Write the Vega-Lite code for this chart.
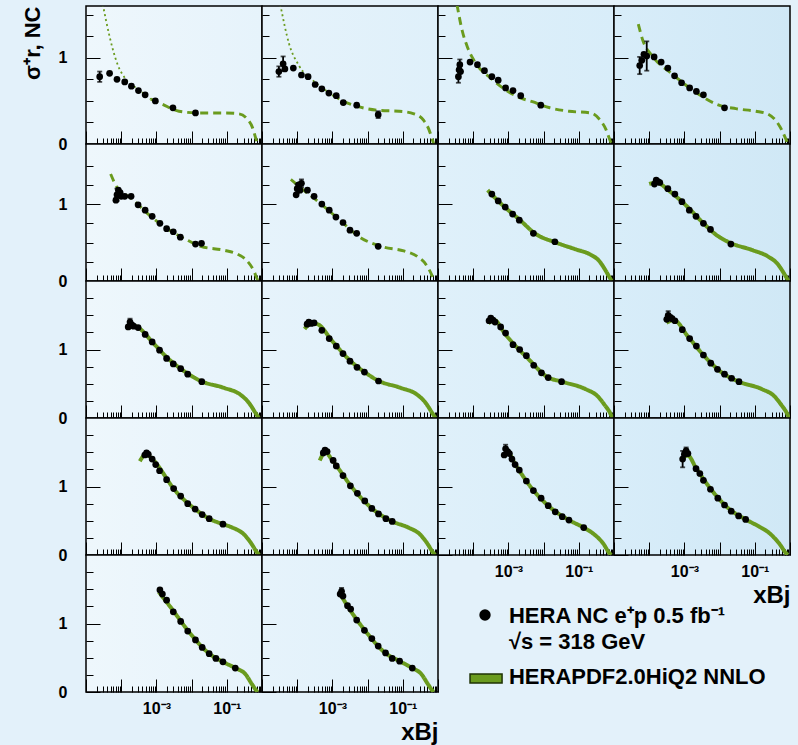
{
"$schema":"https://vega.github.io/schema/vega-lite/v6.json",
"background":"#e3f1fa",
"padding":{"left":20,"top":5,"right":7,"bottom":0},
"columns":4,"spacing":0,"bounds":"flush",
"config":{"font":"Liberation Sans","view":{"stroke":"#000","strokeWidth":1.5,"fill":"#e6f3fb"},
"axis":{"domain":false,"grid":false,"tickColor":"#000","tickWidth":1,"labelFont":"Liberation Sans","labelFontWeight":"bold","labelFontSize":16,"labelColor":"#000","labelFlush":false,"labelOverlap":false,"titleFont":"Liberation Sans","titleFontWeight":"bold","titleColor":"#000"},
"axisX":{"tickCount":12}},
"datasets":{"d":[
{"p":1,"k":"c","seg":"lowx","x":3.0e-5,"y":1.62},{"p":1,"k":"c","seg":"lowx","x":4.47e-5,"y":1.28},{"p":1,"k":"c","seg":"lowx","x":7.76e-5,"y":0.93},{"p":1,"k":"c","seg":"lowx","x":1.35e-4,"y":0.75},{"p":1,"k":"c","seg":"lowx","x":3.16e-4,"y":0.63},{"p":1,"k":"c","seg":"lowx","x":6.92e-4,"y":0.52},
{"p":1,"k":"c","seg":"extrap","x":6.92e-4,"y":0.52},{"p":1,"k":"c","seg":"extrap","x":1.48e-3,"y":0.46},{"p":1,"k":"c","seg":"extrap","x":4.37e-3,"y":0.38},{"p":1,"k":"c","seg":"extrap","x":1.62e-2,"y":0.36},{"p":1,"k":"c","seg":"extrap","x":9.33e-2,"y":0.36},{"p":1,"k":"c","seg":"extrap","x":0.224,"y":0.35},{"p":1,"k":"c","seg":"extrap","x":0.38,"y":0.29},{"p":1,"k":"c","seg":"extrap","x":0.537,"y":0.19},{"p":1,"k":"c","seg":"extrap","x":0.661,"y":0.07},{"p":1,"k":"c","seg":"extrap","x":0.741,"y":0},
{"p":1,"k":"d","x":2.45e-5,"y":0.78,"e":0.06},{"p":1,"k":"d","x":4.68e-5,"y":0.82},{"p":1,"k":"d","x":7.59e-5,"y":0.75},{"p":1,"k":"d","x":1.26e-4,"y":0.72},{"p":1,"k":"d","x":1.95e-4,"y":0.67},{"p":1,"k":"d","x":3.09e-4,"y":0.62},{"p":1,"k":"d","x":4.79e-4,"y":0.57},{"p":1,"k":"d","x":9.33e-4,"y":0.50},{"p":1,"k":"d","x":2.95e-3,"y":0.42},{"p":1,"k":"d","x":1.29e-2,"y":0.36},
{"p":2,"k":"c","seg":"lowx","x":3.3e-5,"y":1.62},{"p":2,"k":"c","seg":"lowx","x":5.89e-5,"y":1.16},{"p":2,"k":"c","seg":"lowx","x":1.12e-4,"y":0.91},{"p":2,"k":"c","seg":"lowx","x":3.39e-4,"y":0.71},{"p":2,"k":"c","seg":"lowx","x":1.0e-3,"y":0.57},
{"p":2,"k":"c","seg":"extrap","x":1.0e-3,"y":0.57},{"p":2,"k":"c","seg":"extrap","x":2.2e-3,"y":0.49},{"p":2,"k":"c","seg":"extrap","x":5.75e-3,"y":0.43},{"p":2,"k":"c","seg":"extrap","x":2.09e-2,"y":0.39},{"p":2,"k":"c","seg":"extrap","x":7.76e-2,"y":0.38},{"p":2,"k":"c","seg":"extrap","x":0.209,"y":0.35},{"p":2,"k":"c","seg":"extrap","x":0.398,"y":0.27},{"p":2,"k":"c","seg":"extrap","x":0.55,"y":0.17},{"p":2,"k":"c","seg":"extrap","x":0.692,"y":0.05},{"p":2,"k":"c","seg":"extrap","x":0.759,"y":0},
{"p":2,"k":"d","x":3.02e-5,"y":0.84,"e":0.06},{"p":2,"k":"d","x":3.98e-5,"y":0.93,"e":0.085},{"p":2,"k":"d","x":4.47e-5,"y":0.87},{"p":2,"k":"d","x":7.76e-5,"y":0.88},{"p":2,"k":"d","x":1.32e-4,"y":0.80},{"p":2,"k":"d","x":2.04e-4,"y":0.78},{"p":2,"k":"d","x":3.24e-4,"y":0.69},{"p":2,"k":"d","x":5.01e-4,"y":0.64},{"p":2,"k":"d","x":7.94e-4,"y":0.59},{"p":2,"k":"d","x":1.29e-3,"y":0.56},{"p":2,"k":"d","x":2.04e-3,"y":0.48},{"p":2,"k":"d","x":4.9e-3,"y":0.45},{"p":2,"k":"d","x":2.0e-2,"y":0.34,"e":0.04},
{"p":3,"k":"c","seg":"extrap","x":3.45e-5,"y":1.62},{"p":3,"k":"c","seg":"extrap","x":4.9e-5,"y":1.31},{"p":3,"k":"c","seg":"extrap","x":6.92e-5,"y":1.12},{"p":3,"k":"c","seg":"extrap","x":1.05e-4,"y":0.97},{"p":3,"k":"c","seg":"extrap","x":3.47e-4,"y":0.75},{"p":3,"k":"c","seg":"extrap","x":2.0e-3,"y":0.54},{"p":3,"k":"c","seg":"extrap","x":4.79e-3,"y":0.49},{"p":3,"k":"c","seg":"extrap","x":1.5e-2,"y":0.42},{"p":3,"k":"c","seg":"extrap","x":5.25e-2,"y":0.38},{"p":3,"k":"c","seg":"extrap","x":0.219,"y":0.36},{"p":3,"k":"c","seg":"extrap","x":0.38,"y":0.29},{"p":3,"k":"c","seg":"extrap","x":0.589,"y":0.17},{"p":3,"k":"c","seg":"extrap","x":0.759,"y":0.05},{"p":3,"k":"c","seg":"extrap","x":0.851,"y":0},
{"p":3,"k":"d","x":3.8e-5,"y":0.78,"e":0.07},{"p":3,"k":"d","x":3.98e-5,"y":0.86},{"p":3,"k":"d","x":4.17e-5,"y":0.92,"e":0.06},{"p":3,"k":"d","x":4.37e-5,"y":0.84},{"p":3,"k":"d","x":8.13e-5,"y":0.95},{"p":3,"k":"d","x":1.32e-4,"y":0.92},{"p":3,"k":"d","x":2.09e-4,"y":0.85},{"p":3,"k":"d","x":3.39e-4,"y":0.78},{"p":3,"k":"d","x":5.13e-4,"y":0.74},{"p":3,"k":"d","x":8.32e-4,"y":0.65},{"p":3,"k":"d","x":1.35e-3,"y":0.62},{"p":3,"k":"d","x":2.24e-3,"y":0.56},{"p":3,"k":"d","x":8.32e-3,"y":0.45},
{"p":4,"k":"c","seg":"extrap","x":4.9e-5,"y":1.39},{"p":4,"k":"c","seg":"extrap","x":6.61e-5,"y":1.2},{"p":4,"k":"c","seg":"extrap","x":1.23e-4,"y":1.02},{"p":4,"k":"c","seg":"extrap","x":4.57e-4,"y":0.81},{"p":4,"k":"c","seg":"extrap","x":2.09e-3,"y":0.6},{"p":4,"k":"c","seg":"extrap","x":9.55e-3,"y":0.45},{"p":4,"k":"c","seg":"extrap","x":2.88e-2,"y":0.41},{"p":4,"k":"c","seg":"extrap","x":0.107,"y":0.38},{"p":4,"k":"c","seg":"extrap","x":0.229,"y":0.35},{"p":4,"k":"c","seg":"extrap","x":0.398,"y":0.27},{"p":4,"k":"c","seg":"extrap","x":0.603,"y":0.15},{"p":4,"k":"c","seg":"extrap","x":0.813,"y":0.03},{"p":4,"k":"c","seg":"extrap","x":0.871,"y":0},
{"p":4,"k":"d","x":5.37e-5,"y":0.91,"e":0.1},{"p":4,"k":"d","x":6.17e-5,"y":0.97},{"p":4,"k":"d","x":7.08e-5,"y":1.04},{"p":4,"k":"d","x":8.51e-5,"y":1.02,"e":0.17},{"p":4,"k":"d","x":1.38e-4,"y":1.01},{"p":4,"k":"d","x":2.19e-4,"y":0.95},{"p":4,"k":"d","x":3.39e-4,"y":0.88},{"p":4,"k":"d","x":5.25e-4,"y":0.79},{"p":4,"k":"d","x":8.32e-4,"y":0.71},{"p":4,"k":"d","x":1.41e-3,"y":0.65},{"p":4,"k":"d","x":2.19e-3,"y":0.61},{"p":4,"k":"d","x":3.47e-3,"y":0.57},{"p":4,"k":"d","x":1.38e-2,"y":0.42},
{"p":5,"k":"c","seg":"extrap","x":5.01e-5,"y":1.39},{"p":5,"k":"c","seg":"extrap","x":7.76e-5,"y":1.21},{"p":5,"k":"c","seg":"extrap","x":1.86e-4,"y":1.08},{"p":5,"k":"c","seg":"extrap","x":6.92e-4,"y":0.84},{"p":5,"k":"c","seg":"extrap","x":2.57e-3,"y":0.65},{"p":5,"k":"c","seg":"extrap","x":7.59e-3,"y":0.53},{"p":5,"k":"c","seg":"extrap","x":1.82e-2,"y":0.45},{"p":5,"k":"c","seg":"extrap","x":8.32e-2,"y":0.4},{"p":5,"k":"c","seg":"extrap","x":0.2,"y":0.35},{"p":5,"k":"c","seg":"extrap","x":0.38,"y":0.26},{"p":5,"k":"c","seg":"extrap","x":0.589,"y":0.13},{"p":5,"k":"c","seg":"extrap","x":0.741,"y":0.02},{"p":5,"k":"c","seg":"extrap","x":0.794,"y":0},
{"p":5,"k":"d","x":7.08e-5,"y":1.05},{"p":5,"k":"d","x":7.59e-5,"y":1.12,"e":0.08},{"p":5,"k":"d","x":8.32e-5,"y":1.18},{"p":5,"k":"d","x":9.33e-5,"y":1.15},{"p":5,"k":"d","x":1.0e-4,"y":1.1},{"p":5,"k":"d","x":1.26e-4,"y":1.1},{"p":5,"k":"d","x":1.91e-4,"y":1.1},{"p":5,"k":"d","x":3.02e-4,"y":0.99},{"p":5,"k":"d","x":4.79e-4,"y":0.92},{"p":5,"k":"d","x":7.59e-4,"y":0.84},{"p":5,"k":"d","x":1.26e-3,"y":0.75},{"p":5,"k":"d","x":1.95e-3,"y":0.68},{"p":5,"k":"d","x":3.02e-3,"y":0.64},{"p":5,"k":"d","x":4.79e-3,"y":0.57},{"p":5,"k":"d","x":1.29e-2,"y":0.48},{"p":5,"k":"d","x":1.91e-2,"y":0.49},
{"p":6,"k":"c","seg":"extrap","x":6.61e-5,"y":1.32},{"p":6,"k":"c","seg":"extrap","x":1.26e-4,"y":1.21},{"p":6,"k":"c","seg":"extrap","x":3.72e-4,"y":1.04},{"p":6,"k":"c","seg":"extrap","x":1.38e-3,"y":0.82},{"p":6,"k":"c","seg":"extrap","x":6.46e-3,"y":0.56},{"p":6,"k":"c","seg":"extrap","x":2.95e-2,"y":0.44},{"p":6,"k":"c","seg":"extrap","x":0.107,"y":0.39},{"p":6,"k":"c","seg":"extrap","x":0.257,"y":0.32},{"p":6,"k":"c","seg":"extrap","x":0.447,"y":0.22},{"p":6,"k":"c","seg":"extrap","x":0.692,"y":0.06},{"p":6,"k":"c","seg":"extrap","x":0.776,"y":0},
{"p":6,"k":"d","x":9.33e-5,"y":1.12},{"p":6,"k":"d","x":1.0e-4,"y":1.2,"e":0.06},{"p":6,"k":"d","x":1.1e-4,"y":1.25},{"p":6,"k":"d","x":1.2e-4,"y":1.18},{"p":6,"k":"d","x":1.32e-4,"y":1.27,"e":0.05},{"p":6,"k":"d","x":1.95e-4,"y":1.18},{"p":6,"k":"d","x":3.02e-4,"y":1.1},{"p":6,"k":"d","x":5.01e-4,"y":1.0},{"p":6,"k":"d","x":8.13e-4,"y":0.92},{"p":6,"k":"d","x":1.26e-3,"y":0.83},{"p":6,"k":"d","x":2.0e-3,"y":0.76},{"p":6,"k":"d","x":3.16e-3,"y":0.66},{"p":6,"k":"d","x":4.9e-3,"y":0.62},{"p":6,"k":"d","x":2.0e-2,"y":0.45},
{"p":7,"k":"c","seg":"fit","x":2.57e-4,"y":1.18},{"p":7,"k":"c","seg":"fit","x":6.31e-4,"y":1.0},{"p":7,"k":"c","seg":"fit","x":2.04e-3,"y":0.8},{"p":7,"k":"c","seg":"fit","x":6.03e-3,"y":0.61},{"p":7,"k":"c","seg":"fit","x":2.24e-2,"y":0.5},{"p":7,"k":"c","seg":"fit","x":8.32e-2,"y":0.41},{"p":7,"k":"c","seg":"fit","x":0.2,"y":0.35},{"p":7,"k":"c","seg":"fit","x":0.38,"y":0.26},{"p":7,"k":"c","seg":"fit","x":0.589,"y":0.13},{"p":7,"k":"c","seg":"fit","x":0.813,"y":0.02},{"p":7,"k":"c","seg":"fit","x":0.871,"y":0},
{"p":7,"k":"d","x":3.39e-4,"y":1.13},{"p":7,"k":"d","x":5.13e-4,"y":1.04},{"p":7,"k":"d","x":8.13e-4,"y":0.96},{"p":7,"k":"d","x":1.32e-3,"y":0.87},{"p":7,"k":"d","x":2.04e-3,"y":0.79},{"p":7,"k":"d","x":5.13e-3,"y":0.62},{"p":7,"k":"d","x":2.09e-2,"y":0.51},
{"p":8,"k":"c","seg":"fit","x":1.0e-4,"y":1.26},{"p":8,"k":"c","seg":"fit","x":1.58e-4,"y":1.28},{"p":8,"k":"c","seg":"fit","x":3.72e-4,"y":1.17},{"p":8,"k":"c","seg":"fit","x":1.12e-3,"y":0.98},{"p":8,"k":"c","seg":"fit","x":3.31e-3,"y":0.76},{"p":8,"k":"c","seg":"fit","x":8.0e-3,"y":0.6},{"p":8,"k":"c","seg":"fit","x":1.91e-2,"y":0.5},{"p":8,"k":"c","seg":"fit","x":8.71e-2,"y":0.4},{"p":8,"k":"c","seg":"fit","x":0.234,"y":0.32},{"p":8,"k":"c","seg":"fit","x":0.447,"y":0.22},{"p":8,"k":"c","seg":"fit","x":0.692,"y":0.09},{"p":8,"k":"c","seg":"fit","x":0.871,"y":0.01},{"p":8,"k":"c","seg":"fit","x":0.891,"y":0},
{"p":8,"k":"d","x":1.41e-4,"y":1.26},{"p":8,"k":"d","x":1.58e-4,"y":1.31},{"p":8,"k":"d","x":1.78e-4,"y":1.29},{"p":8,"k":"d","x":2.0e-4,"y":1.28},{"p":8,"k":"d","x":3.39e-4,"y":1.2},{"p":8,"k":"d","x":5.37e-4,"y":1.13},{"p":8,"k":"d","x":8.51e-4,"y":1.03},{"p":8,"k":"d","x":1.38e-3,"y":0.92},{"p":8,"k":"d","x":2.14e-3,"y":0.84},{"p":8,"k":"d","x":3.47e-3,"y":0.75},{"p":8,"k":"d","x":5.5e-3,"y":0.67},{"p":8,"k":"d","x":2.09e-2,"y":0.48},
{"p":9,"k":"c","seg":"fit","x":1.48e-4,"y":1.31},{"p":9,"k":"c","seg":"fit","x":2.51e-4,"y":1.34},{"p":9,"k":"c","seg":"fit","x":3.24e-4,"y":1.31},{"p":9,"k":"c","seg":"fit","x":7.94e-4,"y":1.1},{"p":9,"k":"c","seg":"fit","x":2.04e-3,"y":0.88},{"p":9,"k":"c","seg":"fit","x":6.31e-3,"y":0.68},{"p":9,"k":"c","seg":"fit","x":1.82e-2,"y":0.54},{"p":9,"k":"c","seg":"fit","x":8.32e-2,"y":0.44},{"p":9,"k":"c","seg":"fit","x":0.245,"y":0.34},{"p":9,"k":"c","seg":"fit","x":0.427,"y":0.22},{"p":9,"k":"c","seg":"fit","x":0.661,"y":0.07},{"p":9,"k":"c","seg":"fit","x":0.813,"y":0},
{"p":9,"k":"d","x":1.58e-4,"y":1.33},{"p":9,"k":"d","x":1.78e-4,"y":1.4,"e":0.05},{"p":9,"k":"d","x":2.0e-4,"y":1.36},{"p":9,"k":"d","x":2.24e-4,"y":1.34},{"p":9,"k":"d","x":3.02e-4,"y":1.32},{"p":9,"k":"d","x":4.79e-4,"y":1.22},{"p":9,"k":"d","x":7.59e-4,"y":1.11},{"p":9,"k":"d","x":1.23e-3,"y":0.99},{"p":9,"k":"d","x":1.95e-3,"y":0.87},{"p":9,"k":"d","x":3.02e-3,"y":0.79},{"p":9,"k":"d","x":4.9e-3,"y":0.72},{"p":9,"k":"d","x":7.76e-3,"y":0.64},{"p":9,"k":"d","x":1.95e-2,"y":0.53},
{"p":10,"k":"c","seg":"fit","x":1.62e-4,"y":1.3},{"p":10,"k":"c","seg":"fit","x":2.51e-4,"y":1.38},{"p":10,"k":"c","seg":"fit","x":3.72e-4,"y":1.37},{"p":10,"k":"c","seg":"fit","x":1.0e-3,"y":1.12},{"p":10,"k":"c","seg":"fit","x":3.31e-3,"y":0.83},{"p":10,"k":"c","seg":"fit","x":1.0e-2,"y":0.64},{"p":10,"k":"c","seg":"fit","x":1.91e-2,"y":0.55},{"p":10,"k":"c","seg":"fit","x":8.71e-2,"y":0.44},{"p":10,"k":"c","seg":"fit","x":0.257,"y":0.34},{"p":10,"k":"c","seg":"fit","x":0.447,"y":0.22},{"p":10,"k":"c","seg":"fit","x":0.692,"y":0.07},{"p":10,"k":"c","seg":"fit","x":0.851,"y":0},
{"p":10,"k":"d","x":1.91e-4,"y":1.37},{"p":10,"k":"d","x":2.14e-4,"y":1.4},{"p":10,"k":"d","x":2.51e-4,"y":1.38},{"p":10,"k":"d","x":3.02e-4,"y":1.39},{"p":10,"k":"d","x":5.01e-4,"y":1.28},{"p":10,"k":"d","x":8.13e-4,"y":1.16},{"p":10,"k":"d","x":1.29e-3,"y":1.05},{"p":10,"k":"d","x":2.0e-3,"y":0.94},{"p":10,"k":"d","x":3.16e-3,"y":0.83},{"p":10,"k":"d","x":5.01e-3,"y":0.74},{"p":10,"k":"d","x":8.13e-3,"y":0.67},{"p":10,"k":"d","x":2.04e-2,"y":0.54},
{"p":11,"k":"c","seg":"fit","x":2.69e-4,"y":1.38},{"p":11,"k":"c","seg":"fit","x":3.98e-4,"y":1.43},{"p":11,"k":"c","seg":"fit","x":7.94e-4,"y":1.23},{"p":11,"k":"c","seg":"fit","x":3.89e-3,"y":0.85},{"p":11,"k":"c","seg":"fit","x":1.26e-2,"y":0.6},{"p":11,"k":"c","seg":"fit","x":3.39e-2,"y":0.53},{"p":11,"k":"c","seg":"fit","x":0.158,"y":0.42},{"p":11,"k":"c","seg":"fit","x":0.339,"y":0.32},{"p":11,"k":"c","seg":"fit","x":0.525,"y":0.2},{"p":11,"k":"c","seg":"fit","x":0.813,"y":0.05},{"p":11,"k":"c","seg":"fit","x":0.891,"y":0},
{"p":11,"k":"d","x":2.82e-4,"y":1.42},{"p":11,"k":"d","x":3.16e-4,"y":1.46},{"p":11,"k":"d","x":3.63e-4,"y":1.43},{"p":11,"k":"d","x":4.17e-4,"y":1.4},{"p":11,"k":"d","x":6.03e-4,"y":1.33},{"p":11,"k":"d","x":8.32e-4,"y":1.24},{"p":11,"k":"d","x":1.35e-3,"y":1.07},{"p":11,"k":"d","x":2.09e-3,"y":1.0},{"p":11,"k":"d","x":3.24e-3,"y":0.91},{"p":11,"k":"d","x":5.25e-3,"y":0.77},{"p":11,"k":"d","x":8.71e-3,"y":0.66},{"p":11,"k":"d","x":1.35e-2,"y":0.59},{"p":11,"k":"d","x":3.24e-2,"y":0.53},
{"p":12,"k":"c","seg":"fit","x":3.09e-4,"y":1.39},{"p":12,"k":"c","seg":"fit","x":5.01e-4,"y":1.43},{"p":12,"k":"c","seg":"fit","x":1.26e-3,"y":1.19},{"p":12,"k":"c","seg":"fit","x":4.07e-3,"y":0.88},{"p":12,"k":"c","seg":"fit","x":1.26e-2,"y":0.65},{"p":12,"k":"c","seg":"fit","x":3.55e-2,"y":0.53},{"p":12,"k":"c","seg":"fit","x":0.162,"y":0.42},{"p":12,"k":"c","seg":"fit","x":0.355,"y":0.32},{"p":12,"k":"c","seg":"fit","x":0.55,"y":0.2},{"p":12,"k":"c","seg":"fit","x":0.851,"y":0.05},{"p":12,"k":"c","seg":"fit","x":0.933,"y":0},
{"p":12,"k":"d","x":3.16e-4,"y":1.44},{"p":12,"k":"d","x":3.47e-4,"y":1.5,"e":0.06},{"p":12,"k":"d","x":3.98e-4,"y":1.47},{"p":12,"k":"d","x":4.47e-4,"y":1.45},{"p":12,"k":"d","x":5.37e-4,"y":1.42},{"p":12,"k":"d","x":8.71e-4,"y":1.29},{"p":12,"k":"d","x":1.41e-3,"y":1.16},{"p":12,"k":"d","x":2.19e-3,"y":1.05},{"p":12,"k":"d","x":3.47e-3,"y":0.92},{"p":12,"k":"d","x":5.62e-3,"y":0.8},{"p":12,"k":"d","x":8.71e-3,"y":0.71},{"p":12,"k":"d","x":1.38e-2,"y":0.64},{"p":12,"k":"d","x":2.19e-2,"y":0.58},{"p":12,"k":"d","x":3.55e-2,"y":0.53},
{"p":13,"k":"c","seg":"fit","x":3.39e-4,"y":1.37},{"p":13,"k":"c","seg":"fit","x":5.01e-4,"y":1.47},{"p":13,"k":"c","seg":"fit","x":7.94e-4,"y":1.39},{"p":13,"k":"c","seg":"fit","x":3.55e-3,"y":0.93},{"p":13,"k":"c","seg":"fit","x":1.26e-2,"y":0.67},{"p":13,"k":"c","seg":"fit","x":3.16e-2,"y":0.53},{"p":13,"k":"c","seg":"fit","x":7.76e-2,"y":0.45},{"p":13,"k":"c","seg":"fit","x":0.145,"y":0.4},{"p":13,"k":"c","seg":"fit","x":0.309,"y":0.3},{"p":13,"k":"c","seg":"fit","x":0.479,"y":0.18},{"p":13,"k":"c","seg":"fit","x":0.741,"y":0.03},{"p":13,"k":"c","seg":"fit","x":0.832,"y":0},
{"p":13,"k":"d","x":4.68e-4,"y":1.46},{"p":13,"k":"d","x":5.25e-4,"y":1.49},{"p":13,"k":"d","x":5.89e-4,"y":1.47},{"p":13,"k":"d","x":7.59e-4,"y":1.4},{"p":13,"k":"d","x":9.55e-4,"y":1.32},{"p":13,"k":"d","x":1.23e-3,"y":1.23},{"p":13,"k":"d","x":1.95e-3,"y":1.1},{"p":13,"k":"d","x":3.09e-3,"y":0.97},{"p":13,"k":"d","x":4.9e-3,"y":0.86},{"p":13,"k":"d","x":7.76e-3,"y":0.75},{"p":13,"k":"d","x":1.26e-2,"y":0.67},{"p":13,"k":"d","x":2.0e-2,"y":0.59},{"p":13,"k":"d","x":3.16e-2,"y":0.53},{"p":13,"k":"d","x":7.76e-2,"y":0.45},
{"p":14,"k":"c","seg":"fit","x":4.37e-4,"y":1.38},{"p":14,"k":"c","seg":"fit","x":6.31e-4,"y":1.5},{"p":14,"k":"c","seg":"fit","x":1.0e-3,"y":1.38},{"p":14,"k":"c","seg":"fit","x":3.98e-3,"y":0.96},{"p":14,"k":"c","seg":"fit","x":1.26e-2,"y":0.69},{"p":14,"k":"c","seg":"fit","x":5.01e-2,"y":0.49},{"p":14,"k":"c","seg":"fit","x":0.145,"y":0.4},{"p":14,"k":"c","seg":"fit","x":0.309,"y":0.3},{"p":14,"k":"c","seg":"fit","x":0.479,"y":0.18},{"p":14,"k":"c","seg":"fit","x":0.741,"y":0.03},{"p":14,"k":"c","seg":"fit","x":0.832,"y":0},
{"p":14,"k":"d","x":5.5e-4,"y":1.49},{"p":14,"k":"d","x":6.17e-4,"y":1.53},{"p":14,"k":"d","x":7.08e-4,"y":1.51},{"p":14,"k":"d","x":1.05e-3,"y":1.38},{"p":14,"k":"d","x":1.29e-3,"y":1.3},{"p":14,"k":"d","x":2.0e-3,"y":1.16},{"p":14,"k":"d","x":3.24e-3,"y":1.01},{"p":14,"k":"d","x":5.13e-3,"y":0.9},{"p":14,"k":"d","x":8.32e-3,"y":0.79},{"p":14,"k":"d","x":1.32e-2,"y":0.68},{"p":14,"k":"d","x":2.04e-2,"y":0.6},{"p":14,"k":"d","x":3.31e-2,"y":0.53},{"p":14,"k":"d","x":5.01e-2,"y":0.49},
{"p":15,"k":"c","seg":"fit","x":7.41e-4,"y":1.43},{"p":15,"k":"c","seg":"fit","x":1.0e-3,"y":1.48},{"p":15,"k":"c","seg":"fit","x":1.58e-3,"y":1.32},{"p":15,"k":"c","seg":"fit","x":5.01e-3,"y":0.95},{"p":15,"k":"c","seg":"fit","x":1.58e-2,"y":0.69},{"p":15,"k":"c","seg":"fit","x":5.25e-2,"y":0.51},{"p":15,"k":"c","seg":"fit","x":0.138,"y":0.4},{"p":15,"k":"c","seg":"fit","x":0.245,"y":0.32},{"p":15,"k":"c","seg":"fit","x":0.49,"y":0.17},{"p":15,"k":"c","seg":"fit","x":0.759,"y":0.02},{"p":15,"k":"c","seg":"fit","x":0.832,"y":0},
{"p":15,"k":"d","x":7.59e-4,"y":1.46},{"p":15,"k":"d","x":8.32e-4,"y":1.55,"e":0.06},{"p":15,"k":"d","x":9.55e-4,"y":1.51},{"p":15,"k":"d","x":1.07e-3,"y":1.48},{"p":15,"k":"d","x":1.26e-3,"y":1.4},{"p":15,"k":"d","x":1.55e-3,"y":1.32},{"p":15,"k":"d","x":2.04e-3,"y":1.24},{"p":15,"k":"d","x":3.24e-3,"y":1.08},{"p":15,"k":"d","x":5.13e-3,"y":0.94},{"p":15,"k":"d","x":8.51e-3,"y":0.83},{"p":15,"k":"d","x":1.35e-2,"y":0.72},{"p":15,"k":"d","x":2.14e-2,"y":0.63},{"p":15,"k":"d","x":3.39e-2,"y":0.56},{"p":15,"k":"d","x":5.25e-2,"y":0.51},{"p":15,"k":"d","x":0.138,"y":0.4},
{"p":16,"k":"c","seg":"fit","x":8.91e-4,"y":1.43},{"p":16,"k":"c","seg":"fit","x":1.26e-3,"y":1.45},{"p":16,"k":"c","seg":"fit","x":2.14e-3,"y":1.27},{"p":16,"k":"c","seg":"fit","x":6.31e-3,"y":0.93},{"p":16,"k":"c","seg":"fit","x":2.0e-2,"y":0.66},{"p":16,"k":"c","seg":"fit","x":5.5e-2,"y":0.52},{"p":16,"k":"c","seg":"fit","x":0.138,"y":0.41},{"p":16,"k":"c","seg":"fit","x":0.245,"y":0.33},{"p":16,"k":"c","seg":"fit","x":0.49,"y":0.17},{"p":16,"k":"c","seg":"fit","x":0.794,"y":0.02},{"p":16,"k":"c","seg":"fit","x":0.871,"y":0},
{"p":16,"k":"d","x":8.91e-4,"y":1.4,"e":0.12},{"p":16,"k":"d","x":1.0e-3,"y":1.47},{"p":16,"k":"d","x":1.12e-3,"y":1.52,"e":0.05},{"p":16,"k":"d","x":1.26e-3,"y":1.48},{"p":16,"k":"d","x":2.14e-3,"y":1.26},{"p":16,"k":"d","x":2.75e-3,"y":1.19},{"p":16,"k":"d","x":3.47e-3,"y":1.09},{"p":16,"k":"d","x":5.5e-3,"y":0.96},{"p":16,"k":"d","x":8.91e-3,"y":0.83},{"p":16,"k":"d","x":1.38e-2,"y":0.73},{"p":16,"k":"d","x":2.14e-2,"y":0.64},{"p":16,"k":"d","x":3.47e-2,"y":0.57},{"p":16,"k":"d","x":5.5e-2,"y":0.52},
{"p":17,"k":"c","seg":"fit","x":1.17e-3,"y":1.46},{"p":17,"k":"c","seg":"fit","x":2.51e-3,"y":1.24},{"p":17,"k":"c","seg":"fit","x":1.0e-2,"y":0.83},{"p":17,"k":"c","seg":"fit","x":3.16e-2,"y":0.56},{"p":17,"k":"c","seg":"fit","x":7.76e-2,"y":0.44},{"p":17,"k":"c","seg":"fit","x":0.174,"y":0.35},{"p":17,"k":"c","seg":"fit","x":0.339,"y":0.26},{"p":17,"k":"c","seg":"fit","x":0.525,"y":0.11},{"p":17,"k":"c","seg":"fit","x":0.724,"y":0.01},{"p":17,"k":"c","seg":"fit","x":0.759,"y":0},
{"p":17,"k":"d","x":1.26e-3,"y":1.49},{"p":17,"k":"d","x":1.48e-3,"y":1.43},{"p":17,"k":"d","x":1.95e-3,"y":1.34},{"p":17,"k":"d","x":3.02e-3,"y":1.17},{"p":17,"k":"d","x":4.9e-3,"y":1.03},{"p":17,"k":"d","x":7.76e-3,"y":0.89},{"p":17,"k":"d","x":1.29e-2,"y":0.76},{"p":17,"k":"d","x":2.0e-2,"y":0.65},{"p":17,"k":"d","x":3.16e-2,"y":0.56},{"p":17,"k":"d","x":4.9e-2,"y":0.49},{"p":17,"k":"d","x":7.76e-2,"y":0.44},{"p":17,"k":"d","x":0.174,"y":0.35},
{"p":18,"k":"c","seg":"fit","x":1.62e-3,"y":1.44},{"p":18,"k":"c","seg":"fit","x":3.16e-3,"y":1.2},{"p":18,"k":"c","seg":"fit","x":1.0e-2,"y":0.85},{"p":18,"k":"c","seg":"fit","x":3.16e-2,"y":0.57},{"p":18,"k":"c","seg":"fit","x":8.13e-2,"y":0.45},{"p":18,"k":"c","seg":"fit","x":0.186,"y":0.35},{"p":18,"k":"c","seg":"fit","x":0.339,"y":0.26},{"p":18,"k":"c","seg":"fit","x":0.525,"y":0.11},{"p":18,"k":"c","seg":"fit","x":0.724,"y":0.01},{"p":18,"k":"c","seg":"fit","x":0.759,"y":0},
{"p":18,"k":"d","x":1.66e-3,"y":1.43},{"p":18,"k":"d","x":1.82e-3,"y":1.47,"e":0.05},{"p":18,"k":"d","x":2.0e-3,"y":1.4},{"p":18,"k":"d","x":2.69e-3,"y":1.26},{"p":18,"k":"d","x":3.31e-3,"y":1.21},{"p":18,"k":"d","x":4.9e-3,"y":1.05},{"p":18,"k":"d","x":8.13e-3,"y":0.9},{"p":18,"k":"d","x":1.32e-2,"y":0.78},{"p":18,"k":"d","x":2.0e-2,"y":0.67},{"p":18,"k":"d","x":3.24e-2,"y":0.57},{"p":18,"k":"d","x":5.01e-2,"y":0.49},{"p":18,"k":"d","x":8.13e-2,"y":0.45},{"p":18,"k":"d","x":0.186,"y":0.35}
]},
"data":{"name":"d"},
"concat":[
{"width":176,"height":138,"view":{"fill":{"gradient":"linear","x1":0,"x2":1,"y1":0,"y2":0,"stops":[{"offset":0,"color":"#eef7fc"},{"offset":1,"color":"#e6f3fb"}]}},
"encoding":{"x":{"field":"x","type":"quantitative","scale":{"type":"log","domain":[0.00001,1]},"axis":{"labels":false,"title":null,"tickSize":{"condition":{"test":"abs(log(datum.value)/LN10-round(log(datum.value)/LN10))<0.001","value":-13},"value":-6}}},
"y":{"field":"y","type":"quantitative","scale":{"domain":[0,1.6],"nice":false},"axis":{"values":[0,0.25,0.5,0.75,1,1.25,1.5],"labelExpr":"datum.value==0?'0':datum.value==1?'1':''","labelPadding":33,"title":"σ⁺r, NC","titleAnchor":"end","titleFontSize":22,"titlePadding":14,"tickSize":{"condition":{"test":"datum.value==1||datum.value==0","value":-14},"value":-7}}}},
"layer":[
{"transform":[{"filter":"datum.p==1&&datum.k=='c'"}],"mark":{"type":"line","color":"#6a9b1e","interpolate":"monotone","clip":true},"encoding":{"strokeDash":{"field":"seg","type":"nominal","legend":null,"scale":{"domain":["lowx","extrap","fit"],"range":[[2,3],[8,5],[1,0]]}},"strokeWidth":{"field":"seg","type":"nominal","legend":null,"scale":{"domain":["lowx","extrap","fit"],"range":[1.8,4,2.8]}}}},
{"transform":[{"filter":"datum.p==1&&datum.e>0"}],"mark":{"type":"errorbar","color":"#000","thickness":1.8,"ticks":true},"encoding":{"yError":{"field":"e"}}},
{"transform":[{"filter":"datum.p==1&&datum.k=='d'"}],"mark":{"type":"circle","color":"#000","opacity":1,"size":45}},
{"data":{"values":[{"t":"Q² = 2 GeV²"}]},"mark":{"type":"text","fontSize":18,"fontWeight":"bold","align":"left","baseline":"alphabetic","color":"#000"},"encoding":{"x":{"datum":0.000203},"y":{"datum":1.3},"text":{"field":"t"}}}]},
{"width":176,"height":138,"view":{"fill":{"gradient":"linear","x1":0,"x2":1,"y1":0,"y2":0,"stops":[{"offset":0,"color":"#e6f3fb"},{"offset":1,"color":"#dff0fa"}]}},
"encoding":{"x":{"field":"x","type":"quantitative","scale":{"type":"log","domain":[0.00001,1]},"axis":{"labels":false,"title":null,"tickSize":{"condition":{"test":"abs(log(datum.value)/LN10-round(log(datum.value)/LN10))<0.001","value":-13},"value":-6}}},
"y":{"field":"y","type":"quantitative","scale":{"domain":[0,1.6],"nice":false},"axis":{"values":[0,0.25,0.5,0.75,1,1.25,1.5],"labels":false,"title":null,"tickSize":{"condition":{"test":"datum.value==1||datum.value==0","value":-14},"value":-7}}}},
"layer":[
{"transform":[{"filter":"datum.p==2&&datum.k=='c'"}],"mark":{"type":"line","color":"#6a9b1e","interpolate":"monotone","clip":true},"encoding":{"strokeDash":{"field":"seg","type":"nominal","legend":null,"scale":{"domain":["lowx","extrap","fit"],"range":[[2,3],[8,5],[1,0]]}},"strokeWidth":{"field":"seg","type":"nominal","legend":null,"scale":{"domain":["lowx","extrap","fit"],"range":[1.8,4,2.8]}}}},
{"transform":[{"filter":"datum.p==2&&datum.e>0"}],"mark":{"type":"errorbar","color":"#000","thickness":1.8,"ticks":true},"encoding":{"yError":{"field":"e"}}},
{"transform":[{"filter":"datum.p==2&&datum.k=='d'"}],"mark":{"type":"circle","color":"#000","opacity":1,"size":45}},
{"data":{"values":[{"t":"Q² = 2.7 GeV²"}]},"mark":{"type":"text","fontSize":18,"fontWeight":"bold","align":"left","baseline":"alphabetic","color":"#000"},"encoding":{"x":{"datum":0.000203},"y":{"datum":1.3},"text":{"field":"t"}}}]},
{"width":176,"height":138,"view":{"fill":{"gradient":"linear","x1":0,"x2":1,"y1":0,"y2":0,"stops":[{"offset":0,"color":"#dff0fa"},{"offset":1,"color":"#d8edf9"}]}},
"encoding":{"x":{"field":"x","type":"quantitative","scale":{"type":"log","domain":[0.00001,1]},"axis":{"labels":false,"title":null,"tickSize":{"condition":{"test":"abs(log(datum.value)/LN10-round(log(datum.value)/LN10))<0.001","value":-13},"value":-6}}},
"y":{"field":"y","type":"quantitative","scale":{"domain":[0,1.6],"nice":false},"axis":{"values":[0,0.25,0.5,0.75,1,1.25,1.5],"labels":false,"title":null,"tickSize":{"condition":{"test":"datum.value==1||datum.value==0","value":-14},"value":-7}}}},
"layer":[
{"transform":[{"filter":"datum.p==3&&datum.k=='c'"}],"mark":{"type":"line","color":"#6a9b1e","interpolate":"monotone","clip":true},"encoding":{"strokeDash":{"field":"seg","type":"nominal","legend":null,"scale":{"domain":["lowx","extrap","fit"],"range":[[2,3],[8,5],[1,0]]}},"strokeWidth":{"field":"seg","type":"nominal","legend":null,"scale":{"domain":["lowx","extrap","fit"],"range":[1.8,4,2.8]}}}},
{"transform":[{"filter":"datum.p==3&&datum.e>0"}],"mark":{"type":"errorbar","color":"#000","thickness":1.8,"ticks":true},"encoding":{"yError":{"field":"e"}}},
{"transform":[{"filter":"datum.p==3&&datum.k=='d'"}],"mark":{"type":"circle","color":"#000","opacity":1,"size":45}},
{"data":{"values":[{"t":"Q² = 3.5 GeV²"}]},"mark":{"type":"text","fontSize":18,"fontWeight":"bold","align":"left","baseline":"alphabetic","color":"#000"},"encoding":{"x":{"datum":0.000203},"y":{"datum":1.3},"text":{"field":"t"}}}]},
{"width":176,"height":138,"view":{"fill":{"gradient":"linear","x1":0,"x2":1,"y1":0,"y2":0,"stops":[{"offset":0,"color":"#d8edf9"},{"offset":1,"color":"#d0e8f6"}]}},
"encoding":{"x":{"field":"x","type":"quantitative","scale":{"type":"log","domain":[0.00001,1]},"axis":{"labels":false,"title":null,"tickSize":{"condition":{"test":"abs(log(datum.value)/LN10-round(log(datum.value)/LN10))<0.001","value":-13},"value":-6}}},
"y":{"field":"y","type":"quantitative","scale":{"domain":[0,1.6],"nice":false},"axis":{"values":[0,0.25,0.5,0.75,1,1.25,1.5],"labels":false,"title":null,"tickSize":{"condition":{"test":"datum.value==1||datum.value==0","value":-14},"value":-7}}}},
"layer":[
{"transform":[{"filter":"datum.p==4&&datum.k=='c'"}],"mark":{"type":"line","color":"#6a9b1e","interpolate":"monotone","clip":true},"encoding":{"strokeDash":{"field":"seg","type":"nominal","legend":null,"scale":{"domain":["lowx","extrap","fit"],"range":[[2,3],[8,5],[1,0]]}},"strokeWidth":{"field":"seg","type":"nominal","legend":null,"scale":{"domain":["lowx","extrap","fit"],"range":[1.8,4,2.8]}}}},
{"transform":[{"filter":"datum.p==4&&datum.e>0"}],"mark":{"type":"errorbar","color":"#000","thickness":1.8,"ticks":true},"encoding":{"yError":{"field":"e"}}},
{"transform":[{"filter":"datum.p==4&&datum.k=='d'"}],"mark":{"type":"circle","color":"#000","opacity":1,"size":45}},
{"data":{"values":[{"t":"Q² = 4.5 GeV²"}]},"mark":{"type":"text","fontSize":18,"fontWeight":"bold","align":"left","baseline":"alphabetic","color":"#000"},"encoding":{"x":{"datum":0.000203},"y":{"datum":1.3},"text":{"field":"t"}}}]},
{"width":176,"height":137,"view":{"fill":{"gradient":"linear","x1":0,"x2":1,"y1":0,"y2":0,"stops":[{"offset":0,"color":"#eef7fc"},{"offset":1,"color":"#e6f3fb"}]}},
"encoding":{"x":{"field":"x","type":"quantitative","scale":{"type":"log","domain":[0.00001,1]},"axis":{"labels":false,"title":null,"tickSize":{"condition":{"test":"abs(log(datum.value)/LN10-round(log(datum.value)/LN10))<0.001","value":-13},"value":-6}}},
"y":{"field":"y","type":"quantitative","scale":{"domain":[0,1.78],"nice":false},"axis":{"values":[0,0.25,0.5,0.75,1,1.25,1.5],"labelExpr":"datum.value==0?'0':datum.value==1?'1':''","labelPadding":33,"title":null,"tickSize":{"condition":{"test":"datum.value==1||datum.value==0","value":-14},"value":-7}}}},
"layer":[
{"transform":[{"filter":"datum.p==5&&datum.k=='c'"}],"mark":{"type":"line","color":"#6a9b1e","interpolate":"monotone","clip":true},"encoding":{"strokeDash":{"field":"seg","type":"nominal","legend":null,"scale":{"domain":["lowx","extrap","fit"],"range":[[2,3],[8,5],[1,0]]}},"strokeWidth":{"field":"seg","type":"nominal","legend":null,"scale":{"domain":["lowx","extrap","fit"],"range":[1.8,4,2.8]}}}},
{"transform":[{"filter":"datum.p==5&&datum.e>0"}],"mark":{"type":"errorbar","color":"#000","thickness":1.8,"ticks":true},"encoding":{"yError":{"field":"e"}}},
{"transform":[{"filter":"datum.p==5&&datum.k=='d'"}],"mark":{"type":"circle","color":"#000","opacity":1,"size":45}},
{"data":{"values":[{"t":"Q² = 6.5 GeV²"}]},"mark":{"type":"text","fontSize":18,"fontWeight":"bold","align":"left","baseline":"alphabetic","color":"#000"},"encoding":{"x":{"datum":0.000203},"y":{"datum":1.47},"text":{"field":"t"}}}]},
{"width":176,"height":137,"view":{"fill":{"gradient":"linear","x1":0,"x2":1,"y1":0,"y2":0,"stops":[{"offset":0,"color":"#e6f3fb"},{"offset":1,"color":"#dff0fa"}]}},
"encoding":{"x":{"field":"x","type":"quantitative","scale":{"type":"log","domain":[0.00001,1]},"axis":{"labels":false,"title":null,"tickSize":{"condition":{"test":"abs(log(datum.value)/LN10-round(log(datum.value)/LN10))<0.001","value":-13},"value":-6}}},
"y":{"field":"y","type":"quantitative","scale":{"domain":[0,1.78],"nice":false},"axis":{"values":[0,0.25,0.5,0.75,1,1.25,1.5],"labels":false,"title":null,"tickSize":{"condition":{"test":"datum.value==1||datum.value==0","value":-14},"value":-7}}}},
"layer":[
{"transform":[{"filter":"datum.p==6&&datum.k=='c'"}],"mark":{"type":"line","color":"#6a9b1e","interpolate":"monotone","clip":true},"encoding":{"strokeDash":{"field":"seg","type":"nominal","legend":null,"scale":{"domain":["lowx","extrap","fit"],"range":[[2,3],[8,5],[1,0]]}},"strokeWidth":{"field":"seg","type":"nominal","legend":null,"scale":{"domain":["lowx","extrap","fit"],"range":[1.8,4,2.8]}}}},
{"transform":[{"filter":"datum.p==6&&datum.e>0"}],"mark":{"type":"errorbar","color":"#000","thickness":1.8,"ticks":true},"encoding":{"yError":{"field":"e"}}},
{"transform":[{"filter":"datum.p==6&&datum.k=='d'"}],"mark":{"type":"circle","color":"#000","opacity":1,"size":45}},
{"data":{"values":[{"t":"Q² = 8.5 GeV²"}]},"mark":{"type":"text","fontSize":18,"fontWeight":"bold","align":"left","baseline":"alphabetic","color":"#000"},"encoding":{"x":{"datum":0.000203},"y":{"datum":1.47},"text":{"field":"t"}}}]},
{"width":176,"height":137,"view":{"fill":{"gradient":"linear","x1":0,"x2":1,"y1":0,"y2":0,"stops":[{"offset":0,"color":"#dff0fa"},{"offset":1,"color":"#d8edf9"}]}},
"encoding":{"x":{"field":"x","type":"quantitative","scale":{"type":"log","domain":[0.00001,1]},"axis":{"labels":false,"title":null,"tickSize":{"condition":{"test":"abs(log(datum.value)/LN10-round(log(datum.value)/LN10))<0.001","value":-13},"value":-6}}},
"y":{"field":"y","type":"quantitative","scale":{"domain":[0,1.78],"nice":false},"axis":{"values":[0,0.25,0.5,0.75,1,1.25,1.5],"labels":false,"title":null,"tickSize":{"condition":{"test":"datum.value==1||datum.value==0","value":-14},"value":-7}}}},
"layer":[
{"transform":[{"filter":"datum.p==7&&datum.k=='c'"}],"mark":{"type":"line","color":"#6a9b1e","interpolate":"monotone","clip":true},"encoding":{"strokeDash":{"field":"seg","type":"nominal","legend":null,"scale":{"domain":["lowx","extrap","fit"],"range":[[2,3],[8,5],[1,0]]}},"strokeWidth":{"field":"seg","type":"nominal","legend":null,"scale":{"domain":["lowx","extrap","fit"],"range":[1.8,4,2.8]}}}},
{"transform":[{"filter":"datum.p==7&&datum.e>0"}],"mark":{"type":"errorbar","color":"#000","thickness":1.8,"ticks":true},"encoding":{"yError":{"field":"e"}}},
{"transform":[{"filter":"datum.p==7&&datum.k=='d'"}],"mark":{"type":"circle","color":"#000","opacity":1,"size":45}},
{"data":{"values":[{"t":"Q² = 10 GeV²"}]},"mark":{"type":"text","fontSize":18,"fontWeight":"bold","align":"left","baseline":"alphabetic","color":"#000"},"encoding":{"x":{"datum":0.000203},"y":{"datum":1.47},"text":{"field":"t"}}}]},
{"width":176,"height":137,"view":{"fill":{"gradient":"linear","x1":0,"x2":1,"y1":0,"y2":0,"stops":[{"offset":0,"color":"#d8edf9"},{"offset":1,"color":"#d0e8f6"}]}},
"encoding":{"x":{"field":"x","type":"quantitative","scale":{"type":"log","domain":[0.00001,1]},"axis":{"labels":false,"title":null,"tickSize":{"condition":{"test":"abs(log(datum.value)/LN10-round(log(datum.value)/LN10))<0.001","value":-13},"value":-6}}},
"y":{"field":"y","type":"quantitative","scale":{"domain":[0,1.78],"nice":false},"axis":{"values":[0,0.25,0.5,0.75,1,1.25,1.5],"labels":false,"title":null,"tickSize":{"condition":{"test":"datum.value==1||datum.value==0","value":-14},"value":-7}}}},
"layer":[
{"transform":[{"filter":"datum.p==8&&datum.k=='c'"}],"mark":{"type":"line","color":"#6a9b1e","interpolate":"monotone","clip":true},"encoding":{"strokeDash":{"field":"seg","type":"nominal","legend":null,"scale":{"domain":["lowx","extrap","fit"],"range":[[2,3],[8,5],[1,0]]}},"strokeWidth":{"field":"seg","type":"nominal","legend":null,"scale":{"domain":["lowx","extrap","fit"],"range":[1.8,4,2.8]}}}},
{"transform":[{"filter":"datum.p==8&&datum.e>0"}],"mark":{"type":"errorbar","color":"#000","thickness":1.8,"ticks":true},"encoding":{"yError":{"field":"e"}}},
{"transform":[{"filter":"datum.p==8&&datum.k=='d'"}],"mark":{"type":"circle","color":"#000","opacity":1,"size":45}},
{"data":{"values":[{"t":"Q² = 12 GeV²"}]},"mark":{"type":"text","fontSize":18,"fontWeight":"bold","align":"left","baseline":"alphabetic","color":"#000"},"encoding":{"x":{"datum":0.000203},"y":{"datum":1.47},"text":{"field":"t"}}}]},
{"width":176,"height":137,"view":{"fill":{"gradient":"linear","x1":0,"x2":1,"y1":0,"y2":0,"stops":[{"offset":0,"color":"#eef7fc"},{"offset":1,"color":"#e6f3fb"}]}},
"encoding":{"x":{"field":"x","type":"quantitative","scale":{"type":"log","domain":[0.00001,1]},"axis":{"labels":false,"title":null,"tickSize":{"condition":{"test":"abs(log(datum.value)/LN10-round(log(datum.value)/LN10))<0.001","value":-13},"value":-6}}},
"y":{"field":"y","type":"quantitative","scale":{"domain":[0,2],"nice":false},"axis":{"values":[0,0.25,0.5,0.75,1,1.25,1.5,1.75],"labelExpr":"datum.value==0?'0':datum.value==1?'1':''","labelPadding":33,"title":null,"tickSize":{"condition":{"test":"datum.value==1||datum.value==0","value":-14},"value":-7}}}},
"layer":[
{"transform":[{"filter":"datum.p==9&&datum.k=='c'"}],"mark":{"type":"line","color":"#6a9b1e","interpolate":"monotone","clip":true},"encoding":{"strokeDash":{"field":"seg","type":"nominal","legend":null,"scale":{"domain":["lowx","extrap","fit"],"range":[[2,3],[8,5],[1,0]]}},"strokeWidth":{"field":"seg","type":"nominal","legend":null,"scale":{"domain":["lowx","extrap","fit"],"range":[1.8,4,2.8]}}}},
{"transform":[{"filter":"datum.p==9&&datum.e>0"}],"mark":{"type":"errorbar","color":"#000","thickness":1.8,"ticks":true},"encoding":{"yError":{"field":"e"}}},
{"transform":[{"filter":"datum.p==9&&datum.k=='d'"}],"mark":{"type":"circle","color":"#000","opacity":1,"size":45}},
{"data":{"values":[{"t":"Q² = 15 GeV²"}]},"mark":{"type":"text","fontSize":18,"fontWeight":"bold","align":"left","baseline":"alphabetic","color":"#000"},"encoding":{"x":{"datum":0.000203},"y":{"datum":1.68},"text":{"field":"t"}}}]},
{"width":176,"height":137,"view":{"fill":{"gradient":"linear","x1":0,"x2":1,"y1":0,"y2":0,"stops":[{"offset":0,"color":"#e6f3fb"},{"offset":1,"color":"#dff0fa"}]}},
"encoding":{"x":{"field":"x","type":"quantitative","scale":{"type":"log","domain":[0.00001,1]},"axis":{"labels":false,"title":null,"tickSize":{"condition":{"test":"abs(log(datum.value)/LN10-round(log(datum.value)/LN10))<0.001","value":-13},"value":-6}}},
"y":{"field":"y","type":"quantitative","scale":{"domain":[0,2],"nice":false},"axis":{"values":[0,0.25,0.5,0.75,1,1.25,1.5,1.75],"labels":false,"title":null,"tickSize":{"condition":{"test":"datum.value==1||datum.value==0","value":-14},"value":-7}}}},
"layer":[
{"transform":[{"filter":"datum.p==10&&datum.k=='c'"}],"mark":{"type":"line","color":"#6a9b1e","interpolate":"monotone","clip":true},"encoding":{"strokeDash":{"field":"seg","type":"nominal","legend":null,"scale":{"domain":["lowx","extrap","fit"],"range":[[2,3],[8,5],[1,0]]}},"strokeWidth":{"field":"seg","type":"nominal","legend":null,"scale":{"domain":["lowx","extrap","fit"],"range":[1.8,4,2.8]}}}},
{"transform":[{"filter":"datum.p==10&&datum.e>0"}],"mark":{"type":"errorbar","color":"#000","thickness":1.8,"ticks":true},"encoding":{"yError":{"field":"e"}}},
{"transform":[{"filter":"datum.p==10&&datum.k=='d'"}],"mark":{"type":"circle","color":"#000","opacity":1,"size":45}},
{"data":{"values":[{"t":"Q² = 18 GeV²"}]},"mark":{"type":"text","fontSize":18,"fontWeight":"bold","align":"left","baseline":"alphabetic","color":"#000"},"encoding":{"x":{"datum":0.000203},"y":{"datum":1.68},"text":{"field":"t"}}}]},
{"width":176,"height":137,"view":{"fill":{"gradient":"linear","x1":0,"x2":1,"y1":0,"y2":0,"stops":[{"offset":0,"color":"#dff0fa"},{"offset":1,"color":"#d8edf9"}]}},
"encoding":{"x":{"field":"x","type":"quantitative","scale":{"type":"log","domain":[0.00001,1]},"axis":{"labels":false,"title":null,"tickSize":{"condition":{"test":"abs(log(datum.value)/LN10-round(log(datum.value)/LN10))<0.001","value":-13},"value":-6}}},
"y":{"field":"y","type":"quantitative","scale":{"domain":[0,2],"nice":false},"axis":{"values":[0,0.25,0.5,0.75,1,1.25,1.5,1.75],"labels":false,"title":null,"tickSize":{"condition":{"test":"datum.value==1||datum.value==0","value":-14},"value":-7}}}},
"layer":[
{"transform":[{"filter":"datum.p==11&&datum.k=='c'"}],"mark":{"type":"line","color":"#6a9b1e","interpolate":"monotone","clip":true},"encoding":{"strokeDash":{"field":"seg","type":"nominal","legend":null,"scale":{"domain":["lowx","extrap","fit"],"range":[[2,3],[8,5],[1,0]]}},"strokeWidth":{"field":"seg","type":"nominal","legend":null,"scale":{"domain":["lowx","extrap","fit"],"range":[1.8,4,2.8]}}}},
{"transform":[{"filter":"datum.p==11&&datum.e>0"}],"mark":{"type":"errorbar","color":"#000","thickness":1.8,"ticks":true},"encoding":{"yError":{"field":"e"}}},
{"transform":[{"filter":"datum.p==11&&datum.k=='d'"}],"mark":{"type":"circle","color":"#000","opacity":1,"size":45}},
{"data":{"values":[{"t":"Q² = 22 GeV²"}]},"mark":{"type":"text","fontSize":18,"fontWeight":"bold","align":"left","baseline":"alphabetic","color":"#000"},"encoding":{"x":{"datum":0.000203},"y":{"datum":1.68},"text":{"field":"t"}}}]},
{"width":176,"height":137,"view":{"fill":{"gradient":"linear","x1":0,"x2":1,"y1":0,"y2":0,"stops":[{"offset":0,"color":"#d8edf9"},{"offset":1,"color":"#d0e8f6"}]}},
"encoding":{"x":{"field":"x","type":"quantitative","scale":{"type":"log","domain":[0.00001,1]},"axis":{"labels":false,"title":null,"tickSize":{"condition":{"test":"abs(log(datum.value)/LN10-round(log(datum.value)/LN10))<0.001","value":-13},"value":-6}}},
"y":{"field":"y","type":"quantitative","scale":{"domain":[0,2],"nice":false},"axis":{"values":[0,0.25,0.5,0.75,1,1.25,1.5,1.75],"labels":false,"title":null,"tickSize":{"condition":{"test":"datum.value==1||datum.value==0","value":-14},"value":-7}}}},
"layer":[
{"transform":[{"filter":"datum.p==12&&datum.k=='c'"}],"mark":{"type":"line","color":"#6a9b1e","interpolate":"monotone","clip":true},"encoding":{"strokeDash":{"field":"seg","type":"nominal","legend":null,"scale":{"domain":["lowx","extrap","fit"],"range":[[2,3],[8,5],[1,0]]}},"strokeWidth":{"field":"seg","type":"nominal","legend":null,"scale":{"domain":["lowx","extrap","fit"],"range":[1.8,4,2.8]}}}},
{"transform":[{"filter":"datum.p==12&&datum.e>0"}],"mark":{"type":"errorbar","color":"#000","thickness":1.8,"ticks":true},"encoding":{"yError":{"field":"e"}}},
{"transform":[{"filter":"datum.p==12&&datum.k=='d'"}],"mark":{"type":"circle","color":"#000","opacity":1,"size":45}},
{"data":{"values":[{"t":"Q² = 27 GeV²"}]},"mark":{"type":"text","fontSize":18,"fontWeight":"bold","align":"left","baseline":"alphabetic","color":"#000"},"encoding":{"x":{"datum":0.000203},"y":{"datum":1.68},"text":{"field":"t"}}}]},
{"width":176,"height":137,"view":{"fill":{"gradient":"linear","x1":0,"x2":1,"y1":0,"y2":0,"stops":[{"offset":0,"color":"#eef7fc"},{"offset":1,"color":"#e6f3fb"}]}},
"encoding":{"x":{"field":"x","type":"quantitative","scale":{"type":"log","domain":[0.00001,1]},"axis":{"labels":false,"title":null,"tickSize":{"condition":{"test":"abs(log(datum.value)/LN10-round(log(datum.value)/LN10))<0.001","value":-13},"value":-6}}},
"y":{"field":"y","type":"quantitative","scale":{"domain":[0,2],"nice":false},"axis":{"values":[0,0.25,0.5,0.75,1,1.25,1.5,1.75],"labelExpr":"datum.value==0?'0':datum.value==1?'1':''","labelPadding":33,"title":null,"tickSize":{"condition":{"test":"datum.value==1||datum.value==0","value":-14},"value":-7}}}},
"layer":[
{"transform":[{"filter":"datum.p==13&&datum.k=='c'"}],"mark":{"type":"line","color":"#6a9b1e","interpolate":"monotone","clip":true},"encoding":{"strokeDash":{"field":"seg","type":"nominal","legend":null,"scale":{"domain":["lowx","extrap","fit"],"range":[[2,3],[8,5],[1,0]]}},"strokeWidth":{"field":"seg","type":"nominal","legend":null,"scale":{"domain":["lowx","extrap","fit"],"range":[1.8,4,2.8]}}}},
{"transform":[{"filter":"datum.p==13&&datum.e>0"}],"mark":{"type":"errorbar","color":"#000","thickness":1.8,"ticks":true},"encoding":{"yError":{"field":"e"}}},
{"transform":[{"filter":"datum.p==13&&datum.k=='d'"}],"mark":{"type":"circle","color":"#000","opacity":1,"size":45}},
{"data":{"values":[{"t":"Q² = 35 GeV²"}]},"mark":{"type":"text","fontSize":18,"fontWeight":"bold","align":"left","baseline":"alphabetic","color":"#000"},"encoding":{"x":{"datum":0.000203},"y":{"datum":1.74},"text":{"field":"t"}}}]},
{"width":176,"height":137,"view":{"fill":{"gradient":"linear","x1":0,"x2":1,"y1":0,"y2":0,"stops":[{"offset":0,"color":"#e6f3fb"},{"offset":1,"color":"#dff0fa"}]}},
"encoding":{"x":{"field":"x","type":"quantitative","scale":{"type":"log","domain":[0.00001,1]},"axis":{"labels":false,"title":null,"tickSize":{"condition":{"test":"abs(log(datum.value)/LN10-round(log(datum.value)/LN10))<0.001","value":-13},"value":-6}}},
"y":{"field":"y","type":"quantitative","scale":{"domain":[0,2],"nice":false},"axis":{"values":[0,0.25,0.5,0.75,1,1.25,1.5,1.75],"labels":false,"title":null,"tickSize":{"condition":{"test":"datum.value==1||datum.value==0","value":-14},"value":-7}}}},
"layer":[
{"transform":[{"filter":"datum.p==14&&datum.k=='c'"}],"mark":{"type":"line","color":"#6a9b1e","interpolate":"monotone","clip":true},"encoding":{"strokeDash":{"field":"seg","type":"nominal","legend":null,"scale":{"domain":["lowx","extrap","fit"],"range":[[2,3],[8,5],[1,0]]}},"strokeWidth":{"field":"seg","type":"nominal","legend":null,"scale":{"domain":["lowx","extrap","fit"],"range":[1.8,4,2.8]}}}},
{"transform":[{"filter":"datum.p==14&&datum.e>0"}],"mark":{"type":"errorbar","color":"#000","thickness":1.8,"ticks":true},"encoding":{"yError":{"field":"e"}}},
{"transform":[{"filter":"datum.p==14&&datum.k=='d'"}],"mark":{"type":"circle","color":"#000","opacity":1,"size":45}},
{"data":{"values":[{"t":"Q² = 45 GeV²"}]},"mark":{"type":"text","fontSize":18,"fontWeight":"bold","align":"left","baseline":"alphabetic","color":"#000"},"encoding":{"x":{"datum":0.000203},"y":{"datum":1.74},"text":{"field":"t"}}}]},
{"width":176,"height":137,"view":{"fill":{"gradient":"linear","x1":0,"x2":1,"y1":0,"y2":0,"stops":[{"offset":0,"color":"#dff0fa"},{"offset":1,"color":"#d8edf9"}]}},
"encoding":{"x":{"field":"x","type":"quantitative","scale":{"type":"log","domain":[0.00001,1]},"axis":{"labelExpr":"abs(datum.value-0.001)<0.00001?'10⁻³':abs(datum.value-0.1)<0.001?'10⁻¹':''","labelPadding":21,"title":null,"tickSize":{"condition":{"test":"abs(log(datum.value)/LN10-round(log(datum.value)/LN10))<0.001","value":-13},"value":-6}}},
"y":{"field":"y","type":"quantitative","scale":{"domain":[0,2],"nice":false},"axis":{"values":[0,0.25,0.5,0.75,1,1.25,1.5,1.75],"labels":false,"title":null,"tickSize":{"condition":{"test":"datum.value==1||datum.value==0","value":-14},"value":-7}}}},
"layer":[
{"transform":[{"filter":"datum.p==15&&datum.k=='c'"}],"mark":{"type":"line","color":"#6a9b1e","interpolate":"monotone","clip":true},"encoding":{"strokeDash":{"field":"seg","type":"nominal","legend":null,"scale":{"domain":["lowx","extrap","fit"],"range":[[2,3],[8,5],[1,0]]}},"strokeWidth":{"field":"seg","type":"nominal","legend":null,"scale":{"domain":["lowx","extrap","fit"],"range":[1.8,4,2.8]}}}},
{"transform":[{"filter":"datum.p==15&&datum.e>0"}],"mark":{"type":"errorbar","color":"#000","thickness":1.8,"ticks":true},"encoding":{"yError":{"field":"e"}}},
{"transform":[{"filter":"datum.p==15&&datum.k=='d'"}],"mark":{"type":"circle","color":"#000","opacity":1,"size":45}},
{"data":{"values":[{"t":"Q² = 60 GeV²"}]},"mark":{"type":"text","fontSize":18,"fontWeight":"bold","align":"left","baseline":"alphabetic","color":"#000"},"encoding":{"x":{"datum":0.000203},"y":{"datum":1.74},"text":{"field":"t"}}}]},
{"width":176,"height":137,"view":{"fill":{"gradient":"linear","x1":0,"x2":1,"y1":0,"y2":0,"stops":[{"offset":0,"color":"#d8edf9"},{"offset":1,"color":"#d0e8f6"}]}},
"encoding":{"x":{"field":"x","type":"quantitative","scale":{"type":"log","domain":[0.00001,1]},"axis":{"labelExpr":"abs(datum.value-0.001)<0.00001?'10⁻³':abs(datum.value-0.1)<0.001?'10⁻¹':''","labelPadding":21,"title":"xBj","titleAnchor":"end","titleFontSize":24,"titlePadding":-3,"tickSize":{"condition":{"test":"abs(log(datum.value)/LN10-round(log(datum.value)/LN10))<0.001","value":-13},"value":-6}}},
"y":{"field":"y","type":"quantitative","scale":{"domain":[0,2],"nice":false},"axis":{"values":[0,0.25,0.5,0.75,1,1.25,1.5,1.75],"labels":false,"title":null,"tickSize":{"condition":{"test":"datum.value==1||datum.value==0","value":-14},"value":-7}}}},
"layer":[
{"transform":[{"filter":"datum.p==16&&datum.k=='c'"}],"mark":{"type":"line","color":"#6a9b1e","interpolate":"monotone","clip":true},"encoding":{"strokeDash":{"field":"seg","type":"nominal","legend":null,"scale":{"domain":["lowx","extrap","fit"],"range":[[2,3],[8,5],[1,0]]}},"strokeWidth":{"field":"seg","type":"nominal","legend":null,"scale":{"domain":["lowx","extrap","fit"],"range":[1.8,4,2.8]}}}},
{"transform":[{"filter":"datum.p==16&&datum.e>0"}],"mark":{"type":"errorbar","color":"#000","thickness":1.8,"ticks":true},"encoding":{"yError":{"field":"e"}}},
{"transform":[{"filter":"datum.p==16&&datum.k=='d'"}],"mark":{"type":"circle","color":"#000","opacity":1,"size":45}},
{"data":{"values":[{"t":"Q² = 70 GeV²"}]},"mark":{"type":"text","fontSize":18,"fontWeight":"bold","align":"left","baseline":"alphabetic","color":"#000"},"encoding":{"x":{"datum":0.000203},"y":{"datum":1.74},"text":{"field":"t"}}}]},
{"width":176,"height":137,"view":{"fill":{"gradient":"linear","x1":0,"x2":1,"y1":0,"y2":0,"stops":[{"offset":0,"color":"#eef7fc"},{"offset":1,"color":"#e6f3fb"}]}},
"encoding":{"x":{"field":"x","type":"quantitative","scale":{"type":"log","domain":[0.00001,1]},"axis":{"labelExpr":"abs(datum.value-0.001)<0.00001?'10⁻³':abs(datum.value-0.1)<0.001?'10⁻¹':''","labelPadding":21,"title":null,"tickSize":{"condition":{"test":"abs(log(datum.value)/LN10-round(log(datum.value)/LN10))<0.001","value":-13},"value":-6}}},
"y":{"field":"y","type":"quantitative","scale":{"domain":[0,2],"nice":false},"axis":{"values":[0,0.25,0.5,0.75,1,1.25,1.5,1.75],"labelExpr":"datum.value==0?'0':datum.value==1?'1':''","labelPadding":33,"title":null,"tickSize":{"condition":{"test":"datum.value==1||datum.value==0","value":-14},"value":-7}}}},
"layer":[
{"transform":[{"filter":"datum.p==17&&datum.k=='c'"}],"mark":{"type":"line","color":"#6a9b1e","interpolate":"monotone","clip":true},"encoding":{"strokeDash":{"field":"seg","type":"nominal","legend":null,"scale":{"domain":["lowx","extrap","fit"],"range":[[2,3],[8,5],[1,0]]}},"strokeWidth":{"field":"seg","type":"nominal","legend":null,"scale":{"domain":["lowx","extrap","fit"],"range":[1.8,4,2.8]}}}},
{"transform":[{"filter":"datum.p==17&&datum.e>0"}],"mark":{"type":"errorbar","color":"#000","thickness":1.8,"ticks":true},"encoding":{"yError":{"field":"e"}}},
{"transform":[{"filter":"datum.p==17&&datum.k=='d'"}],"mark":{"type":"circle","color":"#000","opacity":1,"size":45}},
{"data":{"values":[{"t":"Q² = 90 GeV²"}]},"mark":{"type":"text","fontSize":18,"fontWeight":"bold","align":"left","baseline":"alphabetic","color":"#000"},"encoding":{"x":{"datum":0.000203},"y":{"datum":1.62},"text":{"field":"t"}}}]},
{"width":176,"height":137,"view":{"fill":{"gradient":"linear","x1":0,"x2":1,"y1":0,"y2":0,"stops":[{"offset":0,"color":"#e6f3fb"},{"offset":1,"color":"#dff0fa"}]}},
"encoding":{"x":{"field":"x","type":"quantitative","scale":{"type":"log","domain":[0.00001,1]},"axis":{"labelExpr":"abs(datum.value-0.001)<0.00001?'10⁻³':abs(datum.value-0.1)<0.001?'10⁻¹':''","labelPadding":21,"title":"xBj","titleAnchor":"end","titleFontSize":24,"titlePadding":-3,"tickSize":{"condition":{"test":"abs(log(datum.value)/LN10-round(log(datum.value)/LN10))<0.001","value":-13},"value":-6}}},
"y":{"field":"y","type":"quantitative","scale":{"domain":[0,2],"nice":false},"axis":{"values":[0,0.25,0.5,0.75,1,1.25,1.5,1.75],"labels":false,"title":null,"tickSize":{"condition":{"test":"datum.value==1||datum.value==0","value":-14},"value":-7}}}},
"layer":[
{"transform":[{"filter":"datum.p==18&&datum.k=='c'"}],"mark":{"type":"line","color":"#6a9b1e","interpolate":"monotone","clip":true},"encoding":{"strokeDash":{"field":"seg","type":"nominal","legend":null,"scale":{"domain":["lowx","extrap","fit"],"range":[[2,3],[8,5],[1,0]]}},"strokeWidth":{"field":"seg","type":"nominal","legend":null,"scale":{"domain":["lowx","extrap","fit"],"range":[1.8,4,2.8]}}}},
{"transform":[{"filter":"datum.p==18&&datum.e>0"}],"mark":{"type":"errorbar","color":"#000","thickness":1.8,"ticks":true},"encoding":{"yError":{"field":"e"}}},
{"transform":[{"filter":"datum.p==18&&datum.k=='d'"}],"mark":{"type":"circle","color":"#000","opacity":1,"size":45}},
{"data":{"values":[{"t":"Q² = 120 GeV²"}]},"mark":{"type":"text","fontSize":18,"fontWeight":"bold","align":"left","baseline":"alphabetic","color":"#000"},"encoding":{"x":{"datum":0.000203},"y":{"datum":1.62},"text":{"field":"t"}}}]},
{"width":176,"height":137,"view":{"stroke":null,"fill":null},
"layer":[
{"data":{"values":[{"t":"HERA NC e⁺p 0.5 fb⁻¹"}]},"mark":{"type":"circle","color":"#000","opacity":1,"size":130},"encoding":{"x":{"datum":0.267,"type":"quantitative","scale":{"domain":[0,1]},"axis":null},"y":{"datum":0.562,"type":"quantitative","scale":{"domain":[0,1]},"axis":null}}},
{"data":{"values":[{"t":"HERA NC e⁺p 0.5 fb⁻¹"}]},"mark":{"type":"text","fontSize":22,"fontWeight":"bold","align":"left","baseline":"alphabetic","color":"#000"},"encoding":{"x":{"datum":0.403,"type":"quantitative"},"y":{"datum":0.504,"type":"quantitative"},"text":{"field":"t"}}},
{"data":{"values":[{"t":"√s = 318 GeV"}]},"mark":{"type":"text","fontSize":22,"fontWeight":"bold","align":"left","baseline":"alphabetic","color":"#000"},"encoding":{"x":{"datum":0.403,"type":"quantitative"},"y":{"datum":0.314,"type":"quantitative"},"text":{"field":"t"}}},
{"data":{"values":[{"t":"HERAPDF2.0HiQ2 NNLO"}]},"mark":{"type":"rect","color":"#6a9b1e","stroke":"#1f3305","strokeWidth":1.5},"encoding":{"x":{"datum":0.182,"type":"quantitative"},"x2":{"datum":0.364},"y":{"datum":0.131,"type":"quantitative"},"y2":{"datum":0.066}}},
{"data":{"values":[{"t":"HERAPDF2.0HiQ2 NNLO"}]},"mark":{"type":"text","fontSize":22,"fontWeight":"bold","align":"left","baseline":"alphabetic","color":"#000"},"encoding":{"x":{"datum":0.403,"type":"quantitative"},"y":{"datum":0.058,"type":"quantitative"},"text":{"field":"t"}}}]}
]}
